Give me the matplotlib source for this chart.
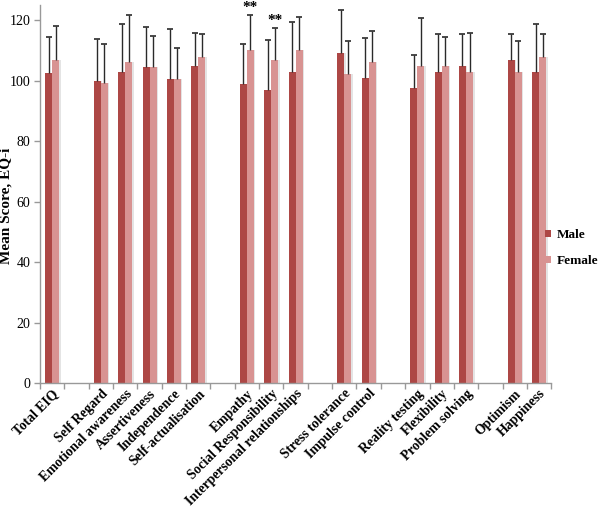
import numpy as np
import matplotlib
matplotlib.use("Agg")
import matplotlib.pyplot as plt

plt.rcParams['font.family'] = ['Liberation Serif', 'DejaVu Serif']

# empty strings are the blank spacer slots between subscale groups
categories = ["Total EIQ", "",
              "Self Regard", "Emotional awareness", "Assertiveness", "Independence", "Self-actualisation", "",
              "Empathy", "Social Responsibility", "Interpersonal relationships", "",
              "Stress tolerance", "Impulse control", "",
              "Reality testing", "Flexibility", "Problem solving", "",
              "Optimism", "Happiness"]

male_mean = [102.7, np.nan, 100.1, 102.8, 104.5, 100.6, 104.8, np.nan, 99.1, 96.9, 102.9, np.nan,
             109.2, 100.9, np.nan, 97.6, 103.1, 104.8, np.nan, 106.8, 103.1]
male_top = [114.5, np.nan, 113.8, 118.7, 117.8, 117.1, 115.9, np.nan, 112.1, 113.4, 119.6, np.nan,
            123.4, 114.2, np.nan, 108.5, 115.6, 115.6, np.nan, 115.6, 118.9]
female_mean = [107.0, np.nan, 99.3, 106.3, 104.5, 100.5, 107.9, np.nan, 110.3, 106.8, 110.1, np.nan,
               102.4, 106.1, np.nan, 105.0, 104.8, 103.0, np.nan, 102.9, 107.9]
female_top = [118.3, np.nan, 112.2, 121.8, 114.8, 110.9, 115.5, np.nan, 121.8, 117.4, 121.3, np.nan,
              113.1, 116.4, np.nan, 120.8, 114.4, 115.8, np.nan, 113.3, 115.6]
significant = ["Empathy", "Social Responsibility"]

male_color = '#ad4745'
female_color = '#d89392'

x = np.arange(len(categories))
m = np.array(male_mean)
f = np.array(female_mean)
m_err = np.array(male_top) - m
f_err = np.array(female_top) - f
w = 0.29

fig = plt.figure(figsize=(6, 5.11), dpi=100)
ax = fig.add_axes([0.0667, 0.2505, 0.852, 0.739])

shadow = '#e4e4e4'
ax.bar(x - w / 2 + 0.06, m, w, color=shadow, zorder=1)
ax.bar(x + w / 2 + 0.06, f, w, color=shadow, zorder=1)
ax.bar(x - w / 2, m, w, color=male_color, label='Male', zorder=2)
ax.bar(x + w / 2, f, w, color=female_color, label='Female', zorder=2)

for pos, mean, err in [(x - w / 2, m, m_err), (x + w / 2, f, f_err)]:
    ok = ~np.isnan(mean)
    _, caps, _ = ax.errorbar(pos[ok], mean[ok], yerr=[np.zeros(ok.sum()), err[ok]],
                             fmt='none', ecolor='#2a2a2a', elinewidth=1.0,
                             capsize=2.5, capthick=1.2, zorder=3)
    caps[0].set_visible(False)

for name in significant:
    i = categories.index(name)
    ax.text(x[i] + w / 2, female_top[i] + 0.4, '**', ha='center', va='bottom',
            fontsize=11, fontweight='bold')

ax.set_xlim(-0.5, len(categories) - 0.5)
ax.set_ylim(0, 125)
ax.set_yticks(np.arange(0, 121, 20))
ax.tick_params(axis='y', labelsize=10, length=4, color='#999999', width=1, pad=3)

ax.set_xticks(np.arange(len(categories) + 1) - 0.5)
ax.set_xticklabels([])
ax.tick_params(axis='x', length=4, color='#999999', width=1)
ax.set_xticks(x, minor=True)
ax.set_xticklabels(categories, minor=True, rotation=45, ha='right',
                   rotation_mode='anchor', fontsize=9.8, fontweight='bold')
ax.tick_params(axis='x', which='minor', length=0, pad=3)

for s in ['top', 'right']:
    ax.spines[s].set_visible(False)
for s in ['left', 'bottom']:
    ax.spines[s].set_color('#999999')
    ax.spines[s].set_linewidth(1)

ax.set_ylabel('Mean Score, EQ-i', fontsize=11, fontweight='bold')
ax.yaxis.set_label_coords(-0.053, 0.47)

leg = ax.legend(loc='center left', bbox_to_anchor=(0.988, 0.357), frameon=False,
                prop={'weight': 'bold', 'size': 9.5}, handlelength=0.45,
                handleheight=0.45, handletextpad=0.4, labelspacing=1.1,
                borderpad=0, borderaxespad=0)

fig.savefig('out.png', dpi=100)
